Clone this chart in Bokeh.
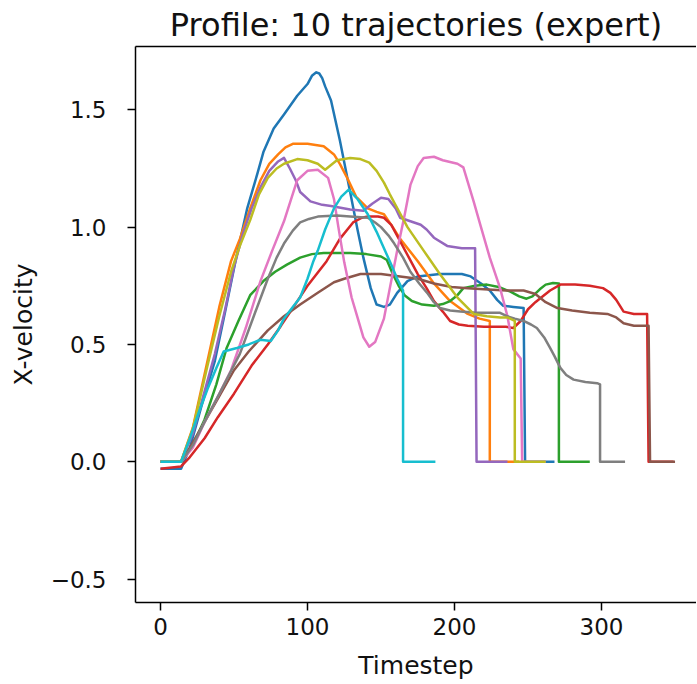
from bokeh.plotting import figure
from bokeh.models import LinearAxis, FixedTicker, Range1d
from bokeh.embed import file_html
from bokeh.resources import INLINE

FONT = "DejaVu Sans"
TITLE = "Profile: 10 trajectories (expert)"
X_LABEL = "Timestep"
Y_LABEL = "X-velocity"
X_TICKS = [0, 100, 200, 300]
Y_TICKS = [-0.5, 0.0, 0.5, 1.0, 1.5]
Y_TICK_LABELS = ["\u22120.5", "0.0", "0.5", "1.0", "1.5"]

COLORS = ["#1f77b4", "#ff7f0e", "#2ca02c", "#d62728", "#9467bd",
          "#8c564b", "#e377c2", "#7f7f7f", "#bcbd22", "#17becf"]

# (timestep, x-velocity) pairs
traj_blue = [(0,-0.03),(14,-0.03),(20,0.06),(28,0.24),(37,0.43),(44,0.64),(51,0.855),(59,1.08),(66,1.23),(70,1.32),(77,1.42),(84,1.48),(93,1.56),(100,1.61),(103,1.645),(106,1.66),(108,1.655),(110,1.635),(112,1.60),(116,1.54),(122,1.37),(129,1.15),(134,0.99),(138,0.87),(143,0.74),(147,0.67),(152,0.66),(156,0.67),(161,0.72),(168,0.77),(175,0.79),(190,0.80),(205,0.80),(211,0.79),(218,0.76),(224,0.73),(229,0.69),(233,0.665),(240,0.66),(247,0.655),(248,0.0),(268,0.0)]
traj_orange = [(0,0.0),(14,0.0),(22,0.145),(32,0.43),(40,0.66),(48,0.855),(54,0.95),(61,1.08),(68,1.20),(74,1.27),(80,1.31),(85,1.34),(90,1.355),(100,1.355),(111,1.345),(118,1.31),(122,1.27),(127,1.21),(133,1.13),(141,1.08),(147,1.065),(152,1.055),(158,1.0),(163,0.95),(175,0.855),(186,0.76),(197,0.685),(209,0.63),(217,0.61),(224,0.60),(224,0.0),(244,0.0)]
traj_green = [(0,0.0),(14,0.0),(22,0.07),(30,0.18),(38,0.33),(45,0.485),(53,0.60),(61,0.71),(70,0.77),(78,0.81),(86,0.84),(95,0.87),(103,0.885),(111,0.89),(129,0.89),(140,0.885),(150,0.875),(154,0.86),(158,0.80),(162,0.75),(166,0.71),(171,0.685),(178,0.67),(186,0.665),(192,0.672),(197,0.685),(202,0.71),(206,0.74),(214,0.75),(222,0.755),(230,0.745),(238,0.725),(244,0.705),(249,0.695),(253,0.705),(258,0.735),(262,0.755),(267,0.762),(271,0.76),(271,0.0),(292,0.0)]
traj_red = [(0,-0.03),(14,-0.02),(20,0.02),(30,0.10),(39,0.19),(50,0.29),(62,0.41),(73,0.50),(82,0.58),(90,0.655),(100,0.75),(113,0.855),(122,0.95),(131,1.02),(137,1.04),(141,1.045),(148,1.045),(152,1.04),(157,1.01),(163,0.94),(169,0.87),(175,0.80),(181,0.74),(186,0.685),(192,0.64),(197,0.60),(203,0.585),(209,0.58),(220,0.575),(235,0.575),(240,0.57),(245,0.60),(250,0.65),(255,0.68),(259,0.70),(265,0.73),(272,0.755),(282,0.755),(292,0.75),(301,0.74),(306,0.72),(310,0.69),(315,0.64),(322,0.63),(331,0.63),(332,0.0),(349,0.0)]
traj_purple = [(0,0.0),(14,0.0),(22,0.12),(30,0.30),(37,0.46),(44,0.65),(50,0.83),(56,0.97),(62,1.08),(68,1.17),(74,1.24),(80,1.28),(84,1.295),(88,1.25),(92,1.20),(95,1.15),(102,1.11),(110,1.095),(116,1.09),(129,1.075),(138,1.07),(144,1.10),(150,1.125),(155,1.12),(160,1.08),(163,1.04),(170,1.025),(177,1.01),(181,0.99),(186,0.955),(195,0.92),(205,0.91),(214,0.91),(215,0.0),(236,0.0)]
traj_brown = [(0,0.0),(14,0.0),(20,0.06),(30,0.17),(40,0.28),(50,0.39),(60,0.47),(73,0.56),(84,0.62),(95,0.67),(107,0.72),(118,0.765),(125,0.78),(136,0.80),(150,0.80),(163,0.79),(175,0.78),(186,0.76),(198,0.745),(209,0.74),(220,0.735),(235,0.73),(247,0.73),(255,0.715),(262,0.68),(270,0.655),(280,0.645),(292,0.635),(304,0.63),(310,0.615),(315,0.59),(322,0.58),(332,0.58),(333,0.0),(350,0.0)]
traj_pink = [(0,0.0),(14,0.0),(22,0.06),(30,0.17),(40,0.29),(48,0.39),(58,0.57),(68,0.77),(76,0.90),(84,1.025),(93,1.20),(100,1.24),(107,1.245),(114,1.21),(118,1.12),(121,1.0),(125,0.85),(130,0.70),(134,0.615),(138,0.53),(142,0.49),(146,0.51),(152,0.61),(156,0.74),(161,0.90),(166,1.05),(170,1.18),(175,1.26),(179,1.295),(186,1.30),(192,1.285),(202,1.27),(206,1.255),(213,1.11),(218,1.0),(224,0.87),(231,0.74),(236,0.62),(240,0.48),(245,0.44),(246,0.0),(262,0.0)]
traj_gray = [(0,0.0),(14,0.0),(22,0.07),(30,0.17),(40,0.29),(54,0.46),(64,0.63),(73,0.78),(79,0.87),(84,0.93),(90,0.985),(95,1.02),(101,1.035),(107,1.045),(120,1.05),(129,1.045),(141,1.04),(146,1.02),(150,1.00),(155,0.965),(159,0.93),(165,0.87),(170,0.81),(176,0.76),(182,0.715),(186,0.68),(190,0.655),(197,0.645),(204,0.64),(215,0.635),(231,0.635),(236,0.62),(241,0.61),(247,0.60),(252,0.585),(256,0.57),(261,0.53),(265,0.485),(268,0.45),(272,0.40),(276,0.37),(281,0.35),(289,0.34),(297,0.335),(299,0.33),(299,0.0),(316,0.0)]
traj_olive = [(0,0.0),(14,0.0),(22,0.14),(32,0.41),(40,0.62),(48,0.81),(54,0.92),(61,1.03),(67,1.14),(73,1.21),(79,1.25),(84,1.27),(93,1.29),(100,1.285),(107,1.27),(112,1.245),(116,1.265),(120,1.285),(129,1.295),(136,1.29),(142,1.275),(147,1.24),(152,1.19),(156,1.14),(162,1.07),(168,1.00),(179,0.90),(190,0.80),(202,0.70),(213,0.63),(222,0.62),(231,0.615),(236,0.615),(241,0.60),(241,0.0),(262,0.0)]
traj_cyan = [(0,0.0),(14,0.0),(20,0.10),(26,0.21),(32,0.31),(38,0.40),(43,0.47),(52,0.485),(60,0.50),(68,0.52),(75,0.515),(80,0.56),(84,0.61),(90,0.66),(95,0.70),(100,0.78),(104,0.855),(107,0.90),(112,0.99),(118,1.08),(123,1.13),(128,1.16),(134,1.12),(141,1.055),(147,0.98),(152,0.91),(157,0.84),(161,0.78),(165,0.73),(165,0.0),(187,0.0)]

TRAJECTORIES = [traj_blue, traj_orange, traj_green, traj_red, traj_purple,
                traj_brown, traj_pink, traj_gray, traj_olive, traj_cyan]

p = figure(width=696, height=682, output_backend="svg", toolbar_location=None,
           x_range=Range1d(-17, 364.6), y_range=Range1d(-0.6, 1.77),
           min_border_left=135, min_border_right=0, min_border_top=45,
           min_border_bottom=80, outline_line_color=None,
           background_fill_color="white", border_fill_color="white")
p.grid.visible = False

for traj, col in zip(TRAJECTORIES, COLORS):
    xs = [a for a, b in traj]
    ys = [b for a, b in traj]
    p.line(xs, ys, line_color=col, line_width=2.5, line_join="round")

def style_axis(ax):
    ax.axis_line_color = "black"
    ax.axis_line_width = 1.5
    ax.major_tick_line_color = "black"
    ax.major_tick_line_width = 1.5
    ax.major_tick_out = 8
    ax.major_tick_in = 0
    ax.minor_tick_line_color = None
    ax.major_label_text_font = FONT
    ax.major_label_text_font_size = "23px"
    ax.major_label_text_color = "#111111"
    ax.axis_label_text_font = FONT
    ax.axis_label_text_font_size = "25px"
    ax.axis_label_text_font_style = "normal"
    ax.axis_label_text_color = "#111111"

xa = p.xaxis[0]
style_axis(xa)
xa.ticker = FixedTicker(ticks=X_TICKS)
xa.axis_label = X_LABEL
xa.major_label_standoff = 7
xa.axis_label_standoff = 13

ya = p.yaxis[0]
style_axis(ya)
ya.ticker = FixedTicker(ticks=Y_TICKS)
ya.major_label_overrides = {t: s for t, s in zip(Y_TICKS, Y_TICK_LABELS)}
ya.axis_label = Y_LABEL
ya.major_label_standoff = 21
ya.axis_label_standoff = 10

top = LinearAxis(ticker=FixedTicker(ticks=[]), axis_line_color="black",
                 axis_line_width=1.5, major_tick_line_color=None,
                 minor_tick_line_color=None, major_tick_out=0,
                 major_label_standoff=0)
p.add_layout(top, "above")

p.title.text = TITLE
p.title.text_font = FONT
p.title.text_font_size = "32px"
p.title.text_font_style = "normal"
p.title.text_color = "#111111"
p.title.align = "center"
p.title.offset = 1
p.title.standoff = 6

open("out.html", "w").write(file_html(p, INLINE))
